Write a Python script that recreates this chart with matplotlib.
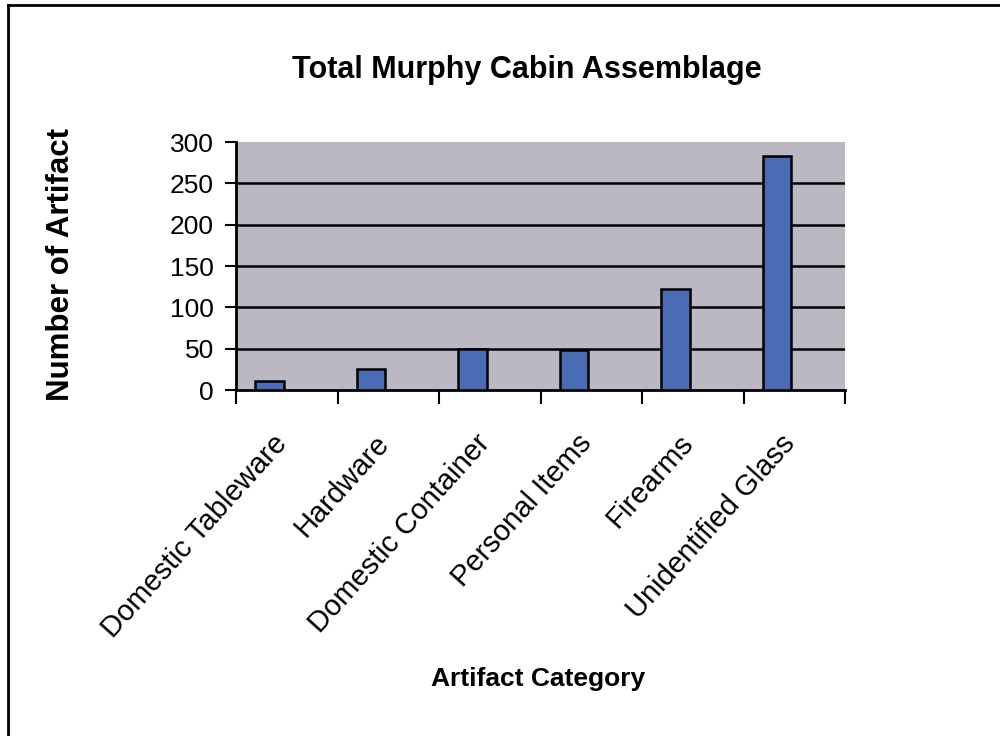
import numpy as np
import matplotlib.pyplot as plt
from matplotlib.lines import Line2D

# artifact counts
categories = ['Domestic Tableware', 'Hardware', 'Domestic Container',
              'Personal Items', 'Firearms', 'Unidentified Glass']
counts = [11, 25, 50, 49, 122, 283]
yticks = [0, 50, 100, 150, 200, 250, 300]

plt.rcParams['font.family'] = ['Liberation Sans', 'DejaVu Sans']

fig = plt.figure(figsize=(10, 7.36), dpi=100)
ax = fig.add_axes([0.236, 0.470, 0.609, 0.337])

x = np.arange(len(categories))
ax.bar(x - 0.17, counts, width=0.28, color='#4a6cb5', edgecolor='black',
       linewidth=1.8, zorder=3)

ax.set_facecolor('#bcb8c3')
ax.set_xlim(-0.5, len(categories) - 0.5)
ax.set_ylim(0, 300)
ax.set_yticks(yticks)
ax.tick_params(axis='y', labelsize=19, length=8, width=1.5, pad=8)
for y in yticks[1:-1]:
    ax.axhline(y, color='black', linewidth=1.8, zorder=1)

ax.set_xticks(np.arange(len(categories) + 1) - 0.5)
ax.set_xticklabels([])
ax.tick_params(axis='x', length=10, width=1.5)
for xi, name in zip(x, categories):
    ax.annotate(name, xy=(xi, 0), xycoords=('data', 'axes fraction'),
                xytext=(-3, -35), textcoords='offset points', rotation=48,
                rotation_mode='anchor', ha='right', va='center', fontsize=21)

for s in ['top', 'right']:
    ax.spines[s].set_visible(False)
ax.spines['left'].set_linewidth(2)
ax.spines['bottom'].set_linewidth(2)

fig.text(0.527, 0.905, 'Total Murphy Cabin Assemblage', ha='center', va='center',
         fontsize=22, fontweight='bold')
fig.text(0.061, 0.64, 'Number of Artifact', rotation=90, ha='center', va='center',
         fontsize=22.5, fontweight='bold')
fig.text(0.538, 0.077, 'Artifact Category', ha='center', va='center',
         fontsize=19, fontweight='bold')

# scanned page frame
fig.add_artist(Line2D([0.008, 0.008], [0, 0.993], color='black', linewidth=2))
fig.add_artist(Line2D([0.008, 1.0], [0.993, 0.993], color='black', linewidth=2))

fig.savefig('out.png', dpi=100)
